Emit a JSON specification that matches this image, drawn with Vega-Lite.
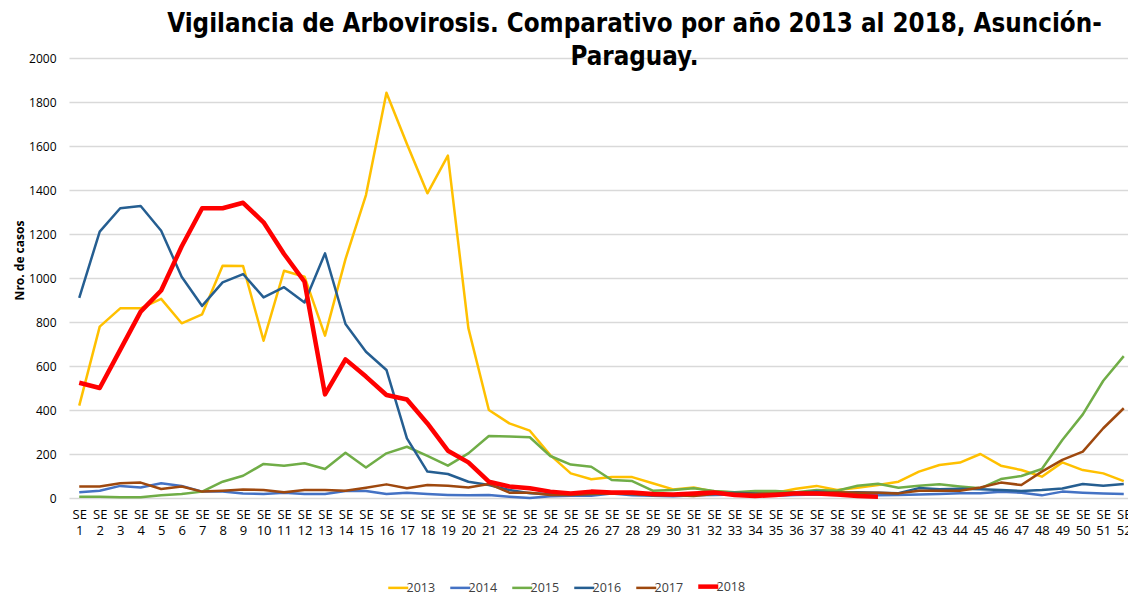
{
  "$schema": "https://vega.github.io/schema/vega-lite/v6.json",
  "width": 1065,
  "height": 440,
  "autosize": {"type": "none"},
  "padding": {"left": 69, "top": 58, "right": 0, "bottom": 96},
  "background": "white",
  "title": {
    "text": ["Vigilancia de Arbovirosis. Comparativo por año 2013 al 2018, Asunción-", "Paraguay."],
    "font": "Liberation Sans Narrow, DejaVu Sans Condensed, sans-serif",
    "fontSize": 25.7,
    "fontWeight": "bold",
    "color": "#000000",
    "anchor": "middle",
    "frame": "group",
    "dx": 33,
    "offset": -19,
    "lineHeight": 33
  },
  "data": {
    "values": [
      {"se": "SE 1", "2013": 420, "2014": 26, "2015": 6, "2016": 910, "2017": 52, "2018": 524},
      {"se": "SE 2", "2013": 779, "2014": 33, "2015": 6, "2016": 1211, "2017": 52, "2018": 500},
      {"se": "SE 3", "2013": 862, "2014": 55, "2015": 3, "2016": 1317, "2017": 67, "2018": 673},
      {"se": "SE 4", "2013": 862, "2014": 48, "2015": 3, "2016": 1327, "2017": 70, "2018": 847},
      {"se": "SE 5", "2013": 905, "2014": 67, "2015": 12, "2016": 1215, "2017": 41, "2018": 943},
      {"se": "SE 6", "2013": 794, "2014": 55, "2015": 18, "2016": 1006, "2017": 52, "2018": 1143},
      {"se": "SE 7", "2013": 835, "2014": 29, "2015": 29, "2016": 873, "2017": 29, "2018": 1317},
      {"se": "SE 8", "2013": 1056, "2014": 29, "2015": 74, "2016": 980, "2017": 33, "2018": 1317},
      {"se": "SE 9", "2013": 1054, "2014": 21, "2015": 101, "2016": 1018, "2017": 39, "2018": 1342},
      {"se": "SE 10", "2013": 715, "2014": 18, "2015": 155, "2016": 912, "2017": 36, "2018": 1253},
      {"se": "SE 11", "2013": 1033, "2014": 24, "2015": 147, "2016": 958, "2017": 26, "2018": 1109},
      {"se": "SE 12", "2013": 1006, "2014": 18, "2015": 158, "2016": 889, "2017": 36, "2018": 983},
      {"se": "SE 13", "2013": 738, "2014": 18, "2015": 132, "2016": 1112, "2017": 36, "2018": 471},
      {"se": "SE 14", "2013": 1086, "2014": 32, "2015": 206, "2016": 791, "2017": 33, "2018": 630},
      {"se": "SE 15", "2013": 1377, "2014": 32, "2015": 139, "2016": 665, "2017": 47, "2018": 552},
      {"se": "SE 16", "2013": 1842, "2014": 18, "2015": 203, "2016": 582, "2017": 62, "2018": 468},
      {"se": "SE 17", "2013": 1609, "2014": 24, "2015": 233, "2016": 271, "2017": 44, "2018": 448},
      {"se": "SE 18", "2013": 1385, "2014": 18, "2015": 191, "2016": 120, "2017": 59, "2018": 339},
      {"se": "SE 19", "2013": 1556, "2014": 14, "2015": 147, "2016": 109, "2017": 56, "2018": 215},
      {"se": "SE 20", "2013": 772, "2014": 12, "2015": 203, "2016": 74, "2017": 48, "2018": 162},
      {"se": "SE 21", "2013": 400, "2014": 14, "2015": 282, "2016": 59, "2017": 64, "2018": 74},
      {"se": "SE 22", "2013": 339, "2014": 6, "2015": 280, "2016": 36, "2017": 24, "2018": 52},
      {"se": "SE 23", "2013": 306, "2014": 0, "2015": 276, "2016": 22, "2017": 24, "2018": 44},
      {"se": "SE 24", "2013": 195, "2014": 8, "2015": 191, "2016": 18, "2017": 14, "2018": 29},
      {"se": "SE 25", "2013": 112, "2014": 10, "2015": 152, "2016": 16, "2017": 14, "2018": 21},
      {"se": "SE 26", "2013": 85, "2014": 10, "2015": 142, "2016": 18, "2017": 18, "2018": 29},
      {"se": "SE 27", "2013": 95, "2014": 20, "2015": 82, "2016": 22, "2017": 21, "2018": 25},
      {"se": "SE 28", "2013": 95, "2014": 12, "2015": 77, "2016": 18, "2017": 18, "2018": 25},
      {"se": "SE 29", "2013": 67, "2014": 10, "2015": 33, "2016": 14, "2017": 12, "2018": 18},
      {"se": "SE 30", "2013": 39, "2014": 8, "2015": 36, "2016": 12, "2017": 12, "2018": 16},
      {"se": "SE 31", "2013": 48, "2014": 12, "2015": 44, "2016": 18, "2017": 9, "2018": 21},
      {"se": "SE 32", "2013": 29, "2014": 14, "2015": 32, "2016": 22, "2017": 18, "2018": 25},
      {"se": "SE 33", "2013": 25, "2014": 16, "2015": 26, "2016": 24, "2017": 21, "2018": 14},
      {"se": "SE 34", "2013": 22, "2014": 12, "2015": 32, "2016": 20, "2017": 18, "2018": 9},
      {"se": "SE 35", "2013": 24, "2014": 10, "2015": 32, "2016": 18, "2017": 21, "2018": 14},
      {"se": "SE 36", "2013": 42, "2014": 14, "2015": 26, "2016": 24, "2017": 24, "2018": 21},
      {"se": "SE 37", "2013": 55, "2014": 16, "2015": 36, "2016": 29, "2017": 24, "2018": 21},
      {"se": "SE 38", "2013": 36, "2014": 14, "2015": 33, "2016": 24, "2017": 26, "2018": 16},
      {"se": "SE 39", "2013": 47, "2014": 12, "2015": 56, "2016": 26, "2017": 24, "2018": 9},
      {"se": "SE 40", "2013": 59, "2014": 12, "2015": 65, "2016": 24, "2017": 24, "2018": 6},
      {"se": "SE 41", "2013": 74, "2014": 14, "2015": 47, "2016": 22, "2017": 21},
      {"se": "SE 42", "2013": 120, "2014": 16, "2015": 56, "2016": 45, "2017": 33},
      {"se": "SE 43", "2013": 150, "2014": 18, "2015": 62, "2016": 40, "2017": 33},
      {"se": "SE 44", "2013": 161, "2014": 22, "2015": 52, "2016": 42, "2017": 33},
      {"se": "SE 45", "2013": 200, "2014": 22, "2015": 44, "2016": 40, "2017": 48},
      {"se": "SE 46", "2013": 147, "2014": 28, "2015": 86, "2016": 36, "2017": 70},
      {"se": "SE 47", "2013": 127, "2014": 24, "2015": 100, "2016": 32, "2017": 59},
      {"se": "SE 48", "2013": 97, "2014": 12, "2015": 132, "2016": 36, "2017": 120},
      {"se": "SE 49", "2013": 162, "2014": 29, "2015": 264, "2016": 43, "2017": 173},
      {"se": "SE 50", "2013": 127, "2014": 24, "2015": 380, "2016": 64, "2017": 211},
      {"se": "SE 51", "2013": 112, "2014": 20, "2015": 533, "2016": 56, "2017": 317},
      {"se": "SE 52", "2013": 77, "2014": 18, "2015": 645, "2016": 64, "2017": 408}
    ]
  },
  "transform": [
    {"fold": ["2013", "2014", "2015", "2016", "2017", "2018"], "as": ["year", "casos"]},
    {"filter": "isValid(datum.casos)"}
  ],
  "mark": {"type": "line", "strokeJoin": "round", "strokeCap": "butt"},
  "encoding": {
    "x": {
      "field": "se",
      "type": "nominal",
      "sort": null,
      "scale": {"type": "point", "padding": 0.5},
      "axis": {
        "title": null,
        "labelAngle": 0,
        "labelExpr": "split(datum.label, ' ')",
        "labelFontSize": 13,
        "labelFont": "Open Sans, sans-serif",
        "labelColor": "#000000",
        "labelLineHeight": 16,
        "labelPadding": 10,
        "labelOverlap": false,
        "labelBound": false,
        "ticks": false,
        "domain": false,
        "grid": false
      }
    },
    "y": {
      "field": "casos",
      "type": "quantitative",
      "scale": {"domain": [0, 2000], "nice": false},
      "axis": {
        "title": "Nro. de casos",
        "titleFont": "Open Sans, sans-serif",
        "titleFontSize": 12,
        "titleFontWeight": "bold",
        "titleColor": "#000000",
        "titleX": -50,
        "titleY": 202,
        "titleAlign": "center",
        "titleBaseline": "middle",
        "titleAngle": -90,
        "format": "d",
        "values": [0, 200, 400, 600, 800, 1000, 1200, 1400, 1600, 1800, 2000],
        "labelFont": "Open Sans, sans-serif",
        "labelFontSize": 12,
        "labelColor": "#000000",
        "labelPadding": 13,
        "ticks": false,
        "domain": false,
        "grid": true,
        "gridColor": "#d9d9d9",
        "gridWidth": 1.3
      }
    },
    "color": {
      "field": "year",
      "type": "nominal",
      "scale": {
        "domain": ["2013", "2014", "2015", "2016", "2017", "2018"],
        "range": ["#FFC000", "#4472C4", "#70AD47", "#255E91", "#9E480E", "#FF0000"]
      },
      "legend": {
        "title": null,
        "encode": {
          "symbols": {
            "update": {
              "strokeWidth": {"signal": "datum.value === '2018' ? 4.5 : 2.5"}
            }
          }
        }
      }
    },
    "strokeWidth": {
      "condition": {"test": "datum.year === '2018'", "value": 4.5},
      "value": 2.5
    }
  },
  "config": {
    "view": {"stroke": null},
    "legend": {
      "orient": "none",
      "legendX": 323,
      "legendY": 522,
      "direction": "horizontal",
      "gridAlign": "all",
      "symbolType": "stroke",
      "symbolSize": 400,
      "symbolStrokeWidth": 4.5,
      "labelFont": "Open Sans, sans-serif",
      "labelFontSize": 12.5,
      "labelColor": "#404040",
      "labelOffset": 2,
      "columnPadding": 5
    }
  }
}
